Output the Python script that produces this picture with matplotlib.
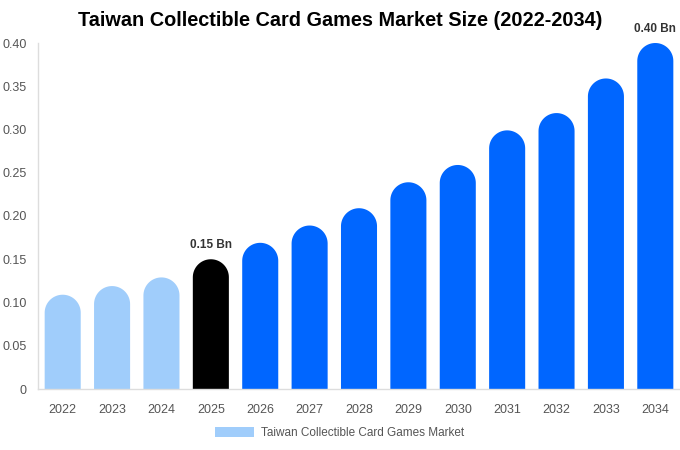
import numpy as np
import matplotlib
matplotlib.use("Agg")
import matplotlib.pyplot as plt
from matplotlib.patches import Polygon, Patch

plt.rcParams['font.family'] = ['Liberation Sans', 'DejaVu Sans']

years = ["2022", "2023", "2024", "2025", "2026", "2027", "2028",
         "2029", "2030", "2031", "2032", "2033", "2034"]
values = [0.109, 0.119, 0.129, 0.15, 0.169, 0.189, 0.209,
          0.239, 0.259, 0.299, 0.319, 0.359, 0.40]
colors = ["#a0cdfb"] * 3 + ["#000000"] + ["#0066ff"] * 9
labeled = {"2025": "0.15 Bn", "2034": "0.40 Bn"}
yticks = [0, 0.05, 0.10, 0.15, 0.20, 0.25, 0.30, 0.35, 0.40]
ytick_labels = ["0", "0.05", "0.10", "0.15", "0.20", "0.25", "0.30", "0.35", "0.40"]

W, H = 680, 450
fig = plt.figure(figsize=(W / 100, H / 100), dpi=100)
ax = fig.add_axes([38 / W, (H - 389) / H, 642 / W, 346 / H])
ax.set_xlim(-0.5, len(years) - 0.5)
ax.set_ylim(0, 0.40)

bw = 0.73
px_per_x = 642 / len(years)
px_per_y = 346 / 0.40
rh = (bw / 2) * px_per_x / px_per_y
theta = np.linspace(np.pi, 0, 40)

for i, (v, c) in enumerate(zip(values, colors)):
    cy = v - rh
    cap_x = i + (bw / 2) * np.cos(theta)
    cap_y = cy + rh * np.sin(theta)
    xs = np.concatenate([[i - bw / 2], cap_x, [i + bw / 2]])
    ys = np.concatenate([[0], cap_y, [0]])
    ax.add_patch(Polygon(np.column_stack([xs, ys]), closed=True,
                         facecolor=c, edgecolor='none', clip_on=False))
    if years[i] in labeled:
        ax.annotate(labeled[years[i]], (i, v), xytext=(0, 6), textcoords='offset points',
                    ha='center', va='bottom', fontsize=8.5, fontweight='bold',
                    color='#333333', annotation_clip=False)

ax.set_xticks(range(len(years)))
ax.set_xticklabels(years)
ax.set_yticks(yticks)
ax.set_yticklabels(ytick_labels)
ax.tick_params(axis='both', length=0, labelsize=9, colors='#555555')
ax.tick_params(axis='x', pad=11)
ax.tick_params(axis='y', pad=8)
for s in ['top', 'right']:
    ax.spines[s].set_visible(False)
for s in ['left', 'bottom']:
    ax.spines[s].set_color('#dddddd')
    ax.spines[s].set_linewidth(1)

fig.text(340 / W, 1 - 21 / H, "Taiwan Collectible Card Games Market Size (2022-2034)",
         ha='center', va='center', fontsize=14.3, fontweight='bold', color='#000000')

handle = Patch(facecolor="#a0cdfb", edgecolor='none')
fig.legend([handle], ["Taiwan Collectible Card Games Market"], loc='center',
           bbox_to_anchor=(340 / W, 1 - 433 / H), frameon=False, fontsize=8.5,
           handlelength=3.3, handleheight=0.9, handletextpad=0.6, labelcolor='#555555')

fig.savefig("out.png", dpi=100)
